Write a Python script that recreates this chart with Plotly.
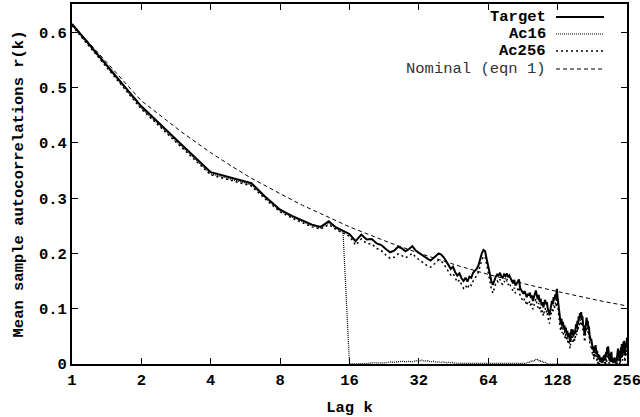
import plotly.graph_objects as go

lags = list(range(1, 257))

target = [
    0.615, 0.466, 0.396, 0.347, 0.336, 0.327, 0.300, 0.279, 0.268, 0.260, 0.252, 0.248, 0.258, 0.247, 0.240, 0.235,
    0.222, 0.234, 0.225, 0.226, 0.218, 0.215, 0.208, 0.202, 0.205, 0.212, 0.209, 0.204, 0.208, 0.213, 0.205, 0.201,
    0.196, 0.193, 0.190, 0.187, 0.191, 0.196, 0.200, 0.198, 0.193, 0.186, 0.179, 0.172, 0.176, 0.166, 0.160, 0.164,
    0.155, 0.150, 0.156, 0.149, 0.158, 0.156, 0.165, 0.168, 0.172, 0.178, 0.190, 0.200, 0.206, 0.204, 0.190, 0.176,
    0.160, 0.150, 0.143, 0.152, 0.158, 0.162, 0.160, 0.165, 0.158, 0.156, 0.162, 0.159, 0.164, 0.157, 0.160, 0.155,
    0.150, 0.146, 0.152, 0.142, 0.145, 0.150, 0.153, 0.137, 0.134, 0.130, 0.127, 0.132, 0.124, 0.121, 0.127, 0.124,
    0.129, 0.119, 0.124, 0.114, 0.121, 0.127, 0.133, 0.124, 0.117, 0.125, 0.112, 0.118, 0.106, 0.112, 0.102, 0.110,
    0.116, 0.108, 0.112, 0.100, 0.094, 0.088, 0.098, 0.106, 0.114, 0.108, 0.121, 0.115, 0.126, 0.119, 0.136, 0.120,
    0.104, 0.090, 0.081, 0.072, 0.082, 0.068, 0.076, 0.064, 0.070, 0.058, 0.066, 0.054, 0.060, 0.048, 0.056, 0.044,
    0.040, 0.054, 0.063, 0.052, 0.062, 0.050, 0.060, 0.054, 0.066, 0.072, 0.064, 0.078, 0.072, 0.086, 0.080, 0.092,
    0.084, 0.094, 0.082, 0.086, 0.072, 0.068, 0.058, 0.052, 0.064, 0.076, 0.084, 0.072, 0.078, 0.064, 0.068, 0.054,
    0.050, 0.042, 0.046, 0.034, 0.038, 0.026, 0.030, 0.020, 0.032, 0.026, 0.034, 0.022, 0.018, 0.024, 0.012, 0.018,
    0.008, 0.016, 0.010, 0.004, 0.012, 0.006, 0.002, 0.010, 0.004, 0.014, 0.008, 0.016, 0.006, 0.018, 0.012, 0.022,
    0.016, 0.030, 0.024, 0.032, 0.020, 0.014, 0.006, 0.012, 0.004, 0.016, 0.022, 0.012, 0.004, 0.010, 0.002, 0.008,
    0.003, 0.012, 0.004, 0.008, 0.001, 0.010, 0.004, 0.014, 0.020, 0.028, 0.018, 0.024, 0.010, 0.016, 0.006, 0.020,
    0.030, 0.022, 0.036, 0.026, 0.018, 0.032, 0.040, 0.030, 0.042, 0.024, 0.016, 0.030, 0.038, 0.028, 0.044, 0.048,
]

ac256 = [
    0.612, 0.461, 0.391, 0.342, 0.331, 0.322, 0.296, 0.275, 0.264, 0.256, 0.248, 0.244, 0.252, 0.243, 0.236, 0.231,
    0.215, 0.226, 0.218, 0.217, 0.209, 0.205, 0.197, 0.191, 0.193, 0.199, 0.196, 0.192, 0.196, 0.200, 0.193, 0.189,
    0.184, 0.180, 0.177, 0.175, 0.179, 0.184, 0.188, 0.186, 0.181, 0.174, 0.167, 0.161, 0.164, 0.155, 0.148, 0.152,
    0.143, 0.137, 0.142, 0.136, 0.145, 0.142, 0.150, 0.154, 0.160, 0.166, 0.178, 0.188, 0.195, 0.193, 0.180, 0.165,
    0.148, 0.136, 0.128, 0.138, 0.146, 0.150, 0.147, 0.153, 0.146, 0.144, 0.150, 0.146, 0.151, 0.143, 0.147, 0.141,
    0.136, 0.132, 0.138, 0.128, 0.131, 0.136, 0.139, 0.123, 0.120, 0.116, 0.113, 0.118, 0.110, 0.106, 0.112, 0.109,
    0.114, 0.104, 0.109, 0.099, 0.106, 0.112, 0.118, 0.109, 0.102, 0.110, 0.097, 0.103, 0.091, 0.097, 0.087, 0.095,
    0.101, 0.093, 0.097, 0.085, 0.079, 0.073, 0.083, 0.091, 0.099, 0.093, 0.106, 0.100, 0.111, 0.104, 0.121, 0.105,
    0.091, 0.077, 0.068, 0.060, 0.070, 0.056, 0.064, 0.052, 0.058, 0.046, 0.054, 0.042, 0.048, 0.036, 0.044, 0.032,
    0.028, 0.042, 0.051, 0.040, 0.050, 0.038, 0.048, 0.042, 0.054, 0.060, 0.052, 0.066, 0.060, 0.074, 0.068, 0.080,
    0.072, 0.082, 0.070, 0.074, 0.060, 0.056, 0.046, 0.040, 0.052, 0.064, 0.072, 0.060, 0.066, 0.052, 0.056, 0.042,
    0.038, 0.030, 0.034, 0.022, 0.026, 0.014, 0.018, 0.008, 0.020, 0.014, 0.022, 0.010, 0.006, 0.012, 0.001, 0.006,
    -0.004, 0.004, -0.002, -0.008, 0.000, -0.006, -0.010, -0.002, -0.008, 0.002, -0.004, 0.004, -0.006, 0.006, 0.000, 0.010,
    0.004, 0.018, 0.012, 0.020, 0.008, 0.002, -0.006, 0.000, -0.008, 0.004, 0.010, 0.000, -0.008, -0.002, -0.010, -0.004,
    -0.009, 0.000, -0.008, -0.004, -0.011, -0.002, -0.008, 0.002, 0.008, 0.016, 0.006, 0.012, -0.002, 0.004, -0.006, 0.008,
    0.018, 0.010, 0.024, 0.014, 0.006, 0.020, 0.028, 0.018, 0.030, 0.012, 0.004, 0.018, 0.026, 0.016, 0.032, 0.036,
]

ac16_lags = list(range(1, 51)) + list(range(90, 119)) + [256]
ac16 = [
    0.613, 0.463, 0.393, 0.344, 0.333, 0.324, 0.298, 0.277, 0.266, 0.258, 0.250, 0.246, 0.255, 0.245, 0.238, 0.000,
    0.000, 0.001, 0.001, 0.002, 0.002, 0.003, 0.002, 0.004, 0.003, 0.004, 0.005, 0.004, 0.005, 0.004, 0.006, 0.005,
    0.007, 0.005, 0.006, 0.004, 0.005, 0.003, 0.004, 0.003, 0.004, 0.002, 0.003, 0.002, 0.003, 0.001, 0.002, 0.001,
    0.001, 0.000,
    0.000, 0.000, 0.001, 0.001, 0.002, 0.003, 0.002, 0.004, 0.005, 0.004, 0.006, 0.007, 0.006, 0.008, 0.007, 0.008,
    0.006, 0.007, 0.005, 0.004, 0.005, 0.003, 0.002, 0.003, 0.001, 0.001, 0.000, 0.000, 0.000,
    0.000,
]

nominal_lags = [1, 2, 3, 4, 5, 6, 8, 10, 12, 16, 20, 24, 32, 40, 48, 64, 80, 96, 128, 160, 192, 256]
nominal = [0.615, 0.476, 0.419, 0.382, 0.356, 0.336, 0.308, 0.287, 0.272, 0.248, 0.232, 0.219,
           0.2005, 0.187, 0.177, 0.162, 0.151, 0.143, 0.131, 0.122, 0.115, 0.105]

x_ticks = [1, 2, 4, 8, 16, 32, 64, 128, 256]
x_tick_text = ["1", "2", "4", "8", "16", "32", "64", "128", "256"]
y_ticks = [0, 0.1, 0.2, 0.3, 0.4, 0.5, 0.6]
y_tick_text = ["0", "0.1", "0.2", "0.3", "0.4", "0.5", "0.6"]

legend_names = ["Target", "Ac16", "Ac256", "Nominal (eqn 1)"]

FONT = "Liberation Mono"
FS = 15.5

fig = go.Figure()
fig.add_trace(go.Scatter(x=nominal_lags, y=nominal, mode="lines", line=dict(color="black", width=1, dash="4px,3px"), name=legend_names[3]))
fig.add_trace(go.Scatter(x=ac16_lags, y=ac16, mode="lines", line=dict(color="black", width=1.2, dash="1px,1px"), name=legend_names[1]))
fig.add_trace(go.Scatter(x=lags, y=ac256, mode="lines", line=dict(color="black", width=1.5, dash="2px,3px"), name=legend_names[2]))
fig.add_trace(go.Scatter(x=lags, y=target, mode="lines", line=dict(color="black", width=2), name=legend_names[0]))

L, R, T, B = 72, 13, 4, 53
W, H = 640, 417
pw, ph = W - L - R, H - T - B

def px2paper(px, py):
    return (px - L) / pw, 1 - (py - T) / ph

# manual legend (text left of sample line, gnuplot style)
leg_y = [17, 34, 51, 69]
styles = [dict(width=2), dict(width=1.2, dash="1px,1px"), dict(width=1.5, dash="2px,3px"), dict(width=1, dash="4px,3px")]
for i, name in enumerate(legend_names):
    tx, ty = px2paper(548, leg_y[i])
    bold = i < 3
    fig.add_annotation(x=tx, y=ty, xref="paper", yref="paper", text=name, showarrow=False,
                       xanchor="right", yanchor="middle",
                       font=dict(family=FONT, size=FS, color="black" if bold else "#333333",
                                 weight="bold" if bold else "normal"))
    x0, y0 = px2paper(556, leg_y[i])
    x1, _ = px2paper(604, leg_y[i])
    fig.add_shape(type="line", xref="paper", yref="paper", x0=x0, x1=x1, y0=y0, y1=y0,
                  line=dict(color="black", **styles[i]))

axis_common = dict(showgrid=False, zeroline=False, showline=True, linecolor="black", linewidth=2,
                   mirror="ticks", ticks="inside", ticklen=6, tickwidth=1, tickcolor="black",
                   ticklabeloverflow="allow", automargin=False,
                   tickfont=dict(family=FONT, size=FS, color="black", weight="bold"))

fig.update_xaxes(type="log", range=[0, 2.40826], tickvals=x_ticks, ticktext=x_tick_text,
                 title=dict(text="Lag k", font=dict(family=FONT, size=FS, color="black", weight="bold"), standoff=14),
                 **axis_common)
fig.update_yaxes(range=[0, 0.651], tickvals=y_ticks, ticktext=y_tick_text,
                 title=dict(text="Mean sample autocorrelations r(k)", font=dict(family=FONT, size=FS, color="black", weight="bold"), standoff=12),
                 **axis_common)

fig.update_layout(width=W, height=H, margin=dict(l=L, r=R, t=T, b=B), showlegend=False,
                  plot_bgcolor="white", paper_bgcolor="white",
                  font=dict(family=FONT, size=FS, color="black"))

fig.write_html("out.html", config={"displayModeBar": False},
               post_script="document.body.style.margin='0';document.body.style.overflow='hidden';")
